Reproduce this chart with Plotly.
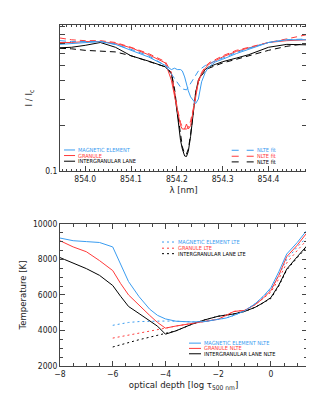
import plotly.graph_objects as go

# ---------------- data: top panel (line profiles) ----------------
wavelength = [853.945, 853.97, 854.0, 854.033, 854.066, 854.10, 854.138, 854.175, 854.188,
              854.195, 854.201, 854.208, 854.212, 854.217, 854.221, 854.225, 854.230, 854.236,
              854.241, 854.247, 854.254, 854.262, 854.270, 854.285, 854.30, 854.33, 854.357,
              854.40, 854.44, 854.484]

mag_obs = [0.69, 0.70, 0.71, 0.72, 0.69, 0.63, 0.57, 0.50, 0.47, 0.48, 0.47, 0.47, 0.46, 0.42,
           0.37, 0.34, 0.31, 0.29, 0.28, 0.30, 0.39, 0.45, 0.49, 0.53, 0.55, 0.60, 0.64, 0.71,
           0.74, 0.74]
mag_fit = [0.73, 0.72, 0.72, 0.72, 0.69, 0.64, 0.58, 0.50, 0.44, 0.41, 0.38, 0.36, 0.35, 0.345,
           0.345, 0.36, 0.38, 0.40, 0.43, 0.46, 0.48, 0.50, 0.51, 0.54, 0.56, 0.61, 0.65, 0.71,
           0.74, 0.75]
gran_obs = [0.71, 0.71, 0.72, 0.72, 0.70, 0.655, 0.59, 0.52, 0.40, 0.31, 0.25, 0.20, 0.19, 0.19,
            0.205, 0.19, 0.20, 0.25, 0.31, 0.39, 0.44, 0.48, 0.51, 0.54, 0.57, 0.62, 0.655, 0.71,
            0.73, 0.74]
gran_fit = [0.76, 0.74, 0.73, 0.73, 0.71, 0.66, 0.60, 0.53, 0.45, 0.33, 0.26, 0.21, 0.195, 0.19,
            0.19, 0.195, 0.215, 0.26, 0.32, 0.40, 0.45, 0.49, 0.52, 0.55, 0.58, 0.63, 0.66, 0.71,
            0.75, 0.80]
lane_obs = [0.655, 0.66, 0.68, 0.71, 0.66, 0.58, 0.535, 0.49, 0.44, 0.33, 0.24, 0.16, 0.14, 0.126,
            0.125, 0.135, 0.17, 0.25, 0.33, 0.40, 0.44, 0.47, 0.49, 0.51, 0.53, 0.56, 0.59, 0.66,
            0.69, 0.685]
lane_fit = [0.65, 0.645, 0.63, 0.625, 0.615, 0.58, 0.535, 0.49, 0.45, 0.35, 0.25, 0.17, 0.145,
            0.13, 0.13, 0.14, 0.175, 0.25, 0.33, 0.39, 0.43, 0.46, 0.48, 0.50, 0.52, 0.55, 0.58,
            0.63, 0.67, 0.70]

intensity_ticks = [0.1]
intensity_minor_ticks = [0.2, 0.3, 0.4, 0.5, 0.6, 0.7, 0.8, 0.9]
wl_ticks = [854.0, 854.1, 854.2, 854.3, 854.4]

# ---------------- data: bottom panel (temperature stratification) ----------------
log_tau = [-8, -7.5, -7, -6.5, -6, -5.7, -5.4, -5, -4.6, -4.3, -4, -3.6, -3, -2.5, -2, -1.7,
           -1.4, -1, -0.6, -0.3, 0, 0.3, 0.6, 1.0, 1.37]

mag_nlte = [9200, 9050, 9000, 8950, 8700, 7700, 6750, 5900, 5200, 4850, 4650, 4520, 4480, 4500,
            4600, 4700, 4850, 5100, 5500, 5900, 6400, 7300, 8300, 8950, 9650]
gran_nlte = [9050, 8700, 8430, 7930, 7370, 6640, 6000, 5400, 4850, 4450, 4130, 4250, 4400, 4520,
             4630, 4850, 5070, 5130, 5450, 5800, 6250, 7100, 8150, 8800, 9500]
lane_nlte = [8100, 7780, 7480, 7100, 6530, 5920, 5350, 4950, 4550, 4240, 3790, 3980, 4350, 4600,
             4800, 4850, 4930, 5070, 5300, 5550, 5850, 6550, 7450, 8150, 8770]

log_tau_lte = log_tau[4:]
mag_lte = [4290, 4380, 4450, 4500, 4520, 4530, 4530, 4520, 4480, 4500, 4600, 4700, 4850, 5100,
           5500, 5900, 6300, 7100, 8000, 8700, 9250]
gran_lte = [3570, 3650, 3730, 3830, 3950, 4050, 4130, 4250, 4400, 4520, 4630, 4850, 5070, 5130,
            5450, 5800, 6150, 6900, 7800, 8500, 9100]
lane_lte = [3070, 3200, 3320, 3480, 3620, 3730, 3840, 3980, 4350, 4600, 4800, 4850, 4930, 5070,
            5300, 5550, 5800, 6500, 7400, 8100, 8700]

temp_ticks = [2000, 4000, 6000, 8000, 10000]

labels = ["MAGNETIC ELEMENT", "GRANULE", "INTERGRANULAR LANE"]
colors = ["#3a9cf0", "#ff3a3a", "#000000"]

FONT = "Liberation Sans Narrow, DejaVu Sans Condensed, Liberation Sans, Arial, sans-serif"

fig = go.Figure()

# top panel traces
for obs, fit, col in zip([lane_obs, gran_obs, mag_obs], [lane_fit, gran_fit, mag_fit],
                         [colors[2], colors[1], colors[0]]):
    fig.add_trace(go.Scatter(x=wavelength, y=fit, mode="lines", xaxis="x", yaxis="y",
                             line=dict(color=col, width=1, dash="6px,4px"), showlegend=False))
    fig.add_trace(go.Scatter(x=wavelength, y=obs, mode="lines", xaxis="x", yaxis="y",
                             line=dict(color=col, width=1), showlegend=False))

# bottom panel traces
for lte, col in zip([lane_lte, gran_lte, mag_lte], [colors[2], colors[1], colors[0]]):
    fig.add_trace(go.Scatter(x=log_tau_lte, y=lte, mode="lines", xaxis="x2", yaxis="y2",
                             line=dict(color=col, width=1, dash="2px,3px"), showlegend=False))
for nlte, col in zip([lane_nlte, gran_nlte, mag_nlte], [colors[2], colors[1], colors[0]]):
    fig.add_trace(go.Scatter(x=log_tau, y=nlte, mode="lines", xaxis="x2", yaxis="y2",
                             line=dict(color=col, width=1), showlegend=False))

axis_common = dict(showline=True, linecolor="#444", linewidth=1, mirror="ticks",
                   ticks="inside", tickcolor="#444", showgrid=False, zeroline=False,
                   tickfont=dict(family=FONT, size=8.5, color="#222"))

fig.update_layout(
    width=314, height=393,
    margin=dict(l=52, r=15, t=15, b=35),
    paper_bgcolor="white", plot_bgcolor="white",
    font=dict(family=FONT, color="#222"),
    xaxis=dict(domain=[0, 1], anchor="y", range=[853.945, 854.484], tickvals=wl_ticks,
               ticktext=[f"{v:.1f}" for v in wl_ticks], ticklen=5,
               minor=dict(dtick=0.01, tick0=854.0, ticklen=2, ticks="inside", tickcolor="#444"),
               title=dict(text="λ [nm]", font=dict(family=FONT, size=9.5), standoff=2),
               **axis_common),
    yaxis=dict(domain=[0.5714, 1], anchor="x", type="log", range=[-1, -0.033],
               tickvals=intensity_ticks, ticktext=["0.1"], ticklen=5,
               minor=dict(tickvals=intensity_minor_ticks, ticklen=5, ticks="inside",
                          tickcolor="#444"),
               title=dict(text="I / I<sub>c</sub>", font=dict(family=FONT, size=9.5), standoff=10),
               **axis_common),
    xaxis2=dict(domain=[0, 1], anchor="y2", range=[-8, 1.37], dtick=2, tick0=0, ticklen=5,
                minor=dict(dtick=0.5, ticklen=3, ticks="inside", tickcolor="#444"),
                title=dict(text="optical depth [log τ<sub>500 nm</sub>]",
                           font=dict(family=FONT, size=9.5), standoff=2),
                **axis_common),
    yaxis2=dict(domain=[0, 0.4169], anchor="x2", range=[2000, 10000], tickvals=temp_ticks,
                ticktext=[str(v) for v in temp_ticks], ticklen=5,
                minor=dict(dtick=500, ticklen=3, ticks="inside", tickcolor="#444"),
                title=dict(text="Temperature [K]", font=dict(family=FONT, size=9.5), standoff=4),
                **axis_common),
)

# ---------- legends drawn as annotations + sample lines ----------
LFS = 5.6

def legend_row(xref, yref, x0, x1, y, color, dash, text, tx):
    fig.add_shape(type="line", xref=xref, yref=yref, x0=x0, x1=x1, y0=y, y1=y,
                  line=dict(color=color, width=1, dash=dash))
    fig.add_annotation(xref=xref, yref=yref, x=tx, y=y, text=text, showarrow=False,
                       xanchor="left", yanchor="middle", font=dict(family=FONT, size=LFS, color=color))

# top panel: plot spans x 52..298 px, y 15..162 px
def tx_top(px):
    return (px - 52) / 246.0

def ty_top(py):
    return (162 - py) / 147.0

def tx_bot(px):
    return (px - 52) / 247.0

def ty_bot(py):
    return (358 - py) / 143.0

rows_top = [140.7, 146.3, 152.0]
for lab, col, py in zip(labels, colors, rows_top):
    legend_row("x domain", "y domain", tx_top(56), tx_top(67), ty_top(py), col, "solid", lab, tx_top(68))
for col, py in zip(colors, [141.0, 147.0, 152.7]):
    legend_row("x domain", "y domain", tx_top(223), tx_top(246.5), ty_top(py), col, "7px,8px",
               "NLTE fit", tx_top(246))

rows_lte = [233.3, 239.5, 245.0]
for lab, col, py in zip(labels, colors, rows_lte):
    legend_row("x2 domain", "y2 domain", tx_bot(154), tx_bot(167), ty_bot(py), col, "2px,3px",
               lab + " LTE", tx_bot(167.5))
rows_nlte = [335.0, 340.3, 345.7]
for lab, col, py in zip(labels, colors, rows_nlte):
    legend_row("x2 domain", "y2 domain", tx_bot(181), tx_bot(193), ty_bot(py), col, "solid",
               lab + " NLTE", tx_bot(193.5))

fig.write_html("out.html")
